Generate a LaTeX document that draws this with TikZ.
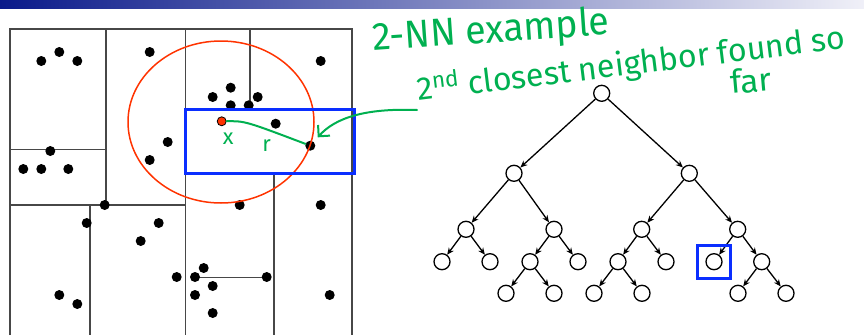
\documentclass[tikz,border=0pt]{standalone}
\usepackage{fontspec}
\newfontfamily\handfont{Fira Sans}
\usetikzlibrary{arrows.meta}

\definecolor{ink}{HTML}{00B050}
\definecolor{boxblue}{HTML}{0A2EFF}
\definecolor{ringred}{HTML}{FF3300}
\definecolor{barleft}{HTML}{0A1A8A}
\definecolor{barright}{HTML}{F0F0F8}

\begin{document}
\begin{tikzpicture}[
    x=1pt, y=-1pt,
    pt/.style={circle, fill=black, inner sep=0pt, minimum size=10pt},
    split/.style={line width=1.3pt, black!72},
    tnode/.style={circle, draw, line width=1.3pt, inner sep=0pt, minimum size=16pt},
    tedge/.style={line width=1.3pt, -{Stealth[length=7pt,width=6pt]}},
    hand/.style={text=ink, font=\handfont\fontsize{#1}{#1}\selectfont, inner sep=0pt},
    hand/.default=24,
    hilite/.style={draw=boxblue, line width=3pt}
]
\useasboundingbox (0,0) rectangle (864,335);

% Title bar
\shade[left color=barleft, right color=barright] (0,0) rectangle (864,8.7);

% kd-tree cells
\draw[split] (10,335) -- (10,29) -- (352,29) -- (352,335);
\draw[split] (106,29) -- (106,205);
\draw[split] (185.7,29) -- (185.7,335);
\draw[split] (250,29) -- (250,106);
\draw[split] (10,149.3) -- (106,149.3);
\draw[split] (10,205) -- (185.7,205);
\draw[split] (90,205) -- (90,335);
\draw[split] (274,174) -- (274,335);
\draw[split] (195,277.3) -- (266.7,277.3);

% Points, top left
\node[pt] (a1) at (41.3,61) {};
\node[pt] (a2) at (59.3,52) {};
\node[pt] (a3) at (77.3,61) {};
\node[pt] (a4) at (50.3,151) {};
\node[pt] (a5) at (23.3,169) {};
\node[pt] (a6) at (41.3,169) {};
\node[pt] (a7) at (68.3,169) {};
\node[pt] (a8) at (104.7,205) {};
\node[pt] (a9) at (149.7,52) {};
\node[pt] (a10) at (167.7,142) {};
\node[pt] (a11) at (149.7,160) {};

% Points, top right
\node[pt] (b1) at (320.7,61) {};
\node[pt] (b2) at (230.7,87.7) {};
\node[pt] (b3) at (212.7,97) {};
\node[pt] (b4) at (257.7,97) {};
\node[pt] (b5) at (230.7,105.3) {};
\node[pt] (b6) at (248.7,105.3) {};
\node[pt] (b7) at (275.7,123.7) {};
\node[pt] (nn) at (310.3,145.7) {};
\node[pt] (b8) at (239.7,205) {};
\node[pt] (b9) at (320.7,205) {};

% Points, bottom
\node[pt] (c1) at (86.7,223) {};
\node[pt] (c2) at (158.7,223) {};
\node[pt] (c3) at (140.7,241) {};
\node[pt] (c4) at (176.7,277) {};
\node[pt] (c5) at (203.7,268) {};
\node[pt] (c6) at (195,277) {};
\node[pt] (c7) at (266.7,277) {};
\node[pt] (c8) at (212.7,286) {};
\node[pt] (c9) at (195,295) {};
\node[pt] (c10) at (212.7,313) {};
\node[pt] (c11) at (59.3,295) {};
\node[pt] (c12) at (77.3,304) {};
\node[pt] (c13) at (329.7,295) {};

% Query point, ball and box
\draw[ringred, line width=1.5pt] (221,122) ellipse [x radius=93, y radius=81];
\node[pt, fill=ringred, draw=black, line width=0.8pt, minimum size=9pt] (q) at (221.7,121.3) {};
\draw[hilite] (185.7,109.3) rectangle (354,173.7);

% Handwriting
\draw[ink, line width=2pt, line cap=round] (q) .. controls (245,121) .. (nn);
\node[hand=22] (xlab) at (228.3,139) {x};
\node[hand=22] (rlab) at (266.7,146) {r};
\coordinate (handstart) at (417,110);
\draw[ink, line width=2pt, line cap=round, shorten >=6pt,
      -{Straight Barb[length=8pt,width=16pt]}]
  (handstart) .. controls (365,108) and (335,118) .. (nn);
\node[hand=30, anchor=base west, rotate=4] (t1) at (373,51)
  {\scalebox{1.25}[1.3]{2-NN example}};
\node[hand=28, anchor=base west, rotate=7] (t2) at (418,101)
  {\scalebox{1.15}[1.15]{2\textsuperscript{nd} closest neighbor found so}};
\node[hand=28, anchor=base west, rotate=5] (t3) at (731,94)
  {\scalebox{1.2}[1.15]{far}};

% Tree
\node[tnode] (t) at (601.7,93.3) {};
\node[tnode] (tL) at (514,173.3) {};
\node[tnode] (tR) at (689.3,173.3) {};
\node[tnode] (tLL) at (466,229.3) {};
\node[tnode] (tLR) at (554,229.3) {};
\node[tnode] (tRL) at (641.7,229.3) {};
\node[tnode] (tRR) at (737.7,229.3) {};
\node[tnode] (tLLL) at (442,261.7) {};
\node[tnode] (tLLR) at (490,261.7) {};
\node[tnode] (tLRL) at (530,261.7) {};
\node[tnode] (tLRR) at (578,261.7) {};
\node[tnode] (tRLL) at (618,261.7) {};
\node[tnode] (tRLR) at (666,261.7) {};
\node[tnode] (tRRL) at (714,261.7) {};
\node[tnode] (tRRR) at (761.7,261.7) {};
\node[tnode] (tLRLL) at (506,293.3) {};
\node[tnode] (tLRLR) at (554,293.3) {};
\node[tnode] (tRLLL) at (594,293.3) {};
\node[tnode] (tRLLR) at (642,293.3) {};
\node[tnode] (tRRRL) at (738,293.3) {};
\node[tnode] (tRRRR) at (786,293.3) {};

\draw[tedge] (t) -- (tL);
\draw[tedge] (t) -- (tR);
\draw[tedge] (tL) -- (tLL);
\draw[tedge] (tL) -- (tLR);
\draw[tedge] (tR) -- (tRL);
\draw[tedge] (tR) -- (tRR);
\draw[tedge] (tLL) -- (tLLL);
\draw[tedge] (tLL) -- (tLLR);
\draw[tedge] (tLR) -- (tLRL);
\draw[tedge] (tLR) -- (tLRR);
\draw[tedge] (tRL) -- (tRLL);
\draw[tedge] (tRL) -- (tRLR);
\draw[tedge] (tRR) -- (tRRL);
\draw[tedge] (tRR) -- (tRRR);
\draw[tedge] (tLRL) -- (tLRLL);
\draw[tedge] (tLRL) -- (tLRLR);
\draw[tedge] (tRLL) -- (tRLLL);
\draw[tedge] (tRLL) -- (tRLLR);
\draw[tedge] (tRRR) -- (tRRRL);
\draw[tedge] (tRRR) -- (tRRRR);

% Leaf being searched
\node[hilite, minimum size=33pt] (cur) at (tRRL) {};

\end{tikzpicture}
\end{document}
